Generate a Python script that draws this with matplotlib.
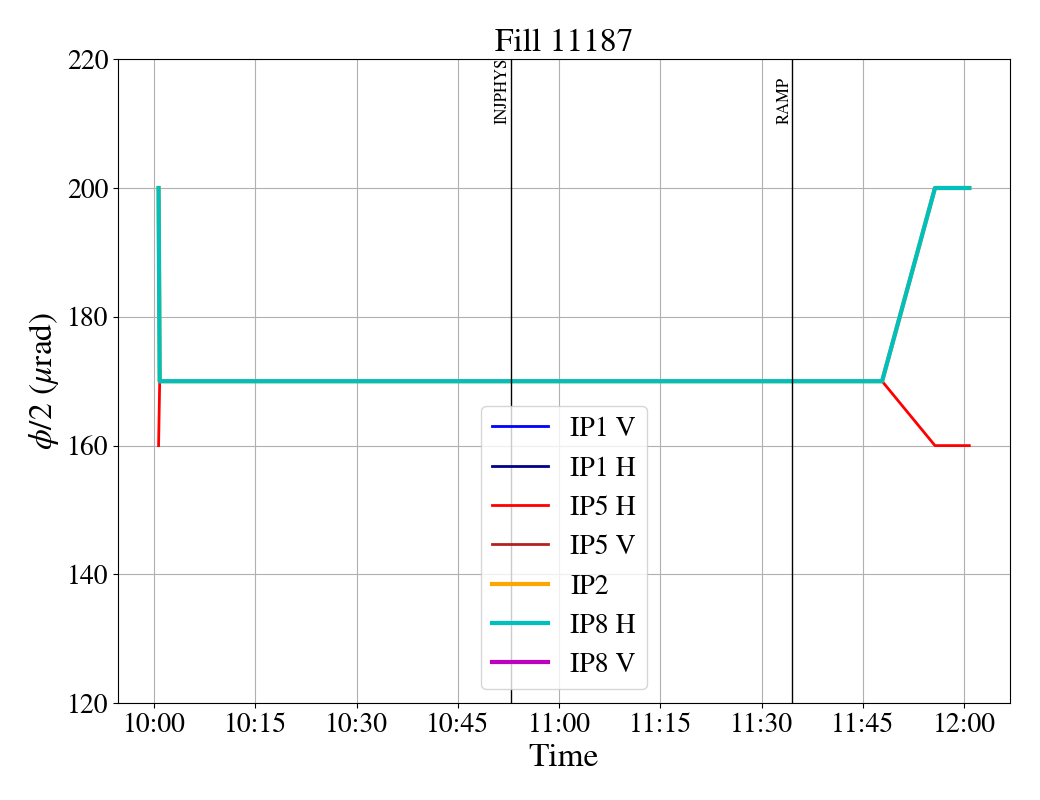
import datetime as dt
import matplotlib
matplotlib.use("Agg")
import matplotlib.pyplot as plt
import matplotlib.dates as mdates

plt.rcParams['font.family'] = ['STIXGeneral', 'DejaVu Serif']
plt.rcParams['mathtext.fontset'] = 'stix'

# time stamps of the crossing-angle settings (fill 11187)
times = ["10:00:40", "10:00:50", "11:47:50", "11:55:40", "12:00:45"]
ip1_v = [200, 170, 170, 200, 200]
ip1_h = [200, 170, 170, 200, 200]
ip5_h = [160, 170, 170, 160, 160]
ip5_v = [200, 170, 170, 200, 200]
ip2 = [200, 170, 170, 200, 200]
ip8_h = [200, 170, 170, 200, 200]
ip8_v = [-200, -170, -170, -200, -200]

# beam mode changes
modes = ["INJPHYS", "RAMP"]
mode_times = ["10:52:53", "11:34:31"]

day = dt.date(2025, 1, 1)
def to_dt(s):
    return dt.datetime.combine(day, dt.datetime.strptime(s, "%H:%M:%S").time())

t = [to_dt(s) for s in times]

fig, ax = plt.subplots(figsize=(10.4, 8), dpi=100)
ax.plot(t, ip1_v, color='blue', lw=2, label='IP1 V')
ax.plot(t, ip1_h, color='darkblue', lw=2, label='IP1 H')
ax.plot(t, ip5_h, color='red', lw=2, label='IP5 H')
ax.plot(t, ip5_v, color='firebrick', lw=2, label='IP5 V')
ax.plot(t, ip2, color='orange', lw=3, label='IP2')
ax.plot(t, ip8_h, color='c', lw=3, label='IP8 H')
ax.plot(t, ip8_v, color='m', lw=3, label='IP8 V')

ax.set_ylim(120, 220)
for name, mt in zip(modes, mode_times):
    x = to_dt(mt)
    ax.axvline(x, color='black', lw=1)
    ax.text(x, 210, name, rotation=90, ha='right', va='bottom', fontsize=12)

ax.xaxis.set_major_locator(mdates.MinuteLocator(byminute=[0, 15, 30, 45]))
ax.xaxis.set_major_formatter(mdates.DateFormatter('%H:%M'))
ax.grid(True)
ax.tick_params(labelsize=20)
ax.set_xlabel('Time', fontsize=24)
ax.set_ylabel(r'$\phi/2$ ($\mu$rad)', fontsize=24)
ax.set_title('Fill 11187', fontsize=24)
ax.legend(loc='lower center', fontsize=20)

fig.subplots_adjust(left=0.1135, right=0.971, top=0.926, bottom=0.121)
fig.savefig('out.png', dpi=100)
